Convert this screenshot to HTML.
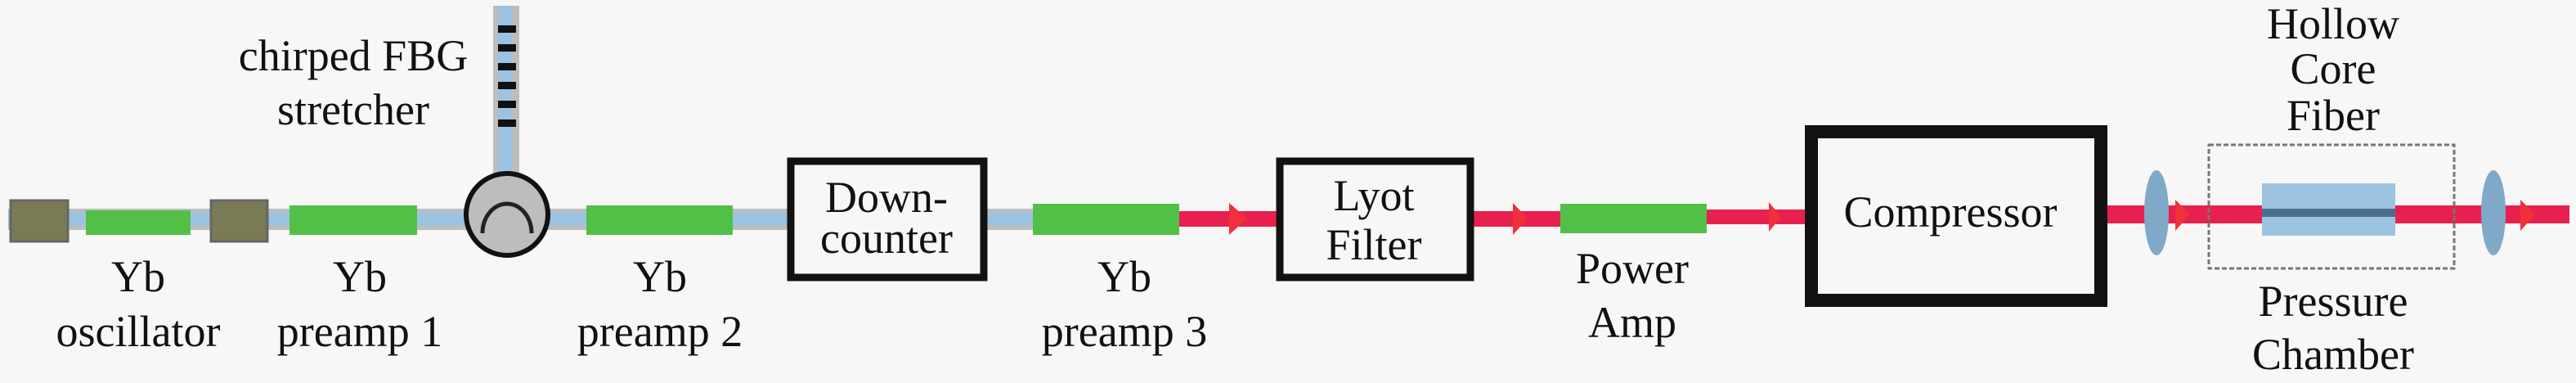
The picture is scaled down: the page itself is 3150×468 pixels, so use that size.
<!DOCTYPE html>
<html><head><meta charset="utf-8"><style>
html,body{margin:0;padding:0;background:#f7f7f7;}
svg{display:block;}
text{font-family:"Liberation Serif","Noto Serif CJK SC","DejaVu Serif",serif;font-size:54px;fill:#111;text-anchor:middle;}
</style></head><body>
<svg width="3150" height="468" viewBox="0 0 3150 468" xmlns="http://www.w3.org/2000/svg">
<rect width="3150" height="468" fill="#f7f7f7"/>
<rect x="10" y="255" width="953" height="26" fill="#bdbdbd"/>
<rect x="10" y="259" width="953" height="17" fill="#9cc3e0"/>
<rect x="1207" y="255" width="60" height="26" fill="#bdbdbd"/>
<rect x="1207" y="259" width="60" height="17" fill="#9cc3e0"/>
<rect x="603" y="7" width="32" height="205" fill="#bdbdbd"/>
<rect x="609" y="7" width="18" height="205" fill="#9cc3e0"/>
<g fill="#111">
<rect x="609" y="31" width="22" height="9"/><rect x="609" y="54" width="22" height="9"/>
<rect x="609" y="77" width="22" height="9"/><rect x="609" y="100" width="22" height="9"/>
<rect x="609" y="123" width="22" height="9"/><rect x="609" y="146" width="22" height="9"/>
</g>
<rect x="13" y="245" width="70" height="50" fill="#7a7a55" stroke="#666" stroke-width="3"/>
<rect x="258" y="245" width="69" height="50" fill="#7a7a55" stroke="#666" stroke-width="3"/>
<rect x="105" y="257" width="128" height="30" fill="#52c046"/>
<rect x="354" y="251" width="156" height="36" fill="#52c046"/>
<rect x="717" y="251" width="179" height="36" fill="#52c046"/>
<rect x="1263" y="249" width="179" height="38" fill="#52c046"/>
<rect x="1908" y="249" width="179" height="36" fill="#52c046"/>
<circle cx="620" cy="262" r="50" fill="#bdbdbd" stroke="#111" stroke-width="6"/>
<path d="M590 285 A30 36 0 0 1 650 285" fill="none" stroke="#222" stroke-width="5"/>
<g fill="#e8204f">
<rect x="1442" y="258" width="119" height="19"/>
<rect x="1802" y="258" width="106" height="19"/>
<rect x="2087" y="256" width="120" height="18"/>
<rect x="2577" y="251" width="565" height="22"/>
</g>
<g fill="#f0303a">
<polygon points="1503,248 1525,267 1503,287"/>
<polygon points="1850,248 1868,267 1850,287"/>
<polygon points="2163,247 2178,265 2163,283"/>
<polygon points="2660,244 2678,262 2660,282"/>
<polygon points="3082,244 3100,262 3082,282"/>
</g>
<rect x="967" y="197" width="236" height="142" fill="#f7f7f7" stroke="#111" stroke-width="9"/>
<rect x="1565" y="197" width="233" height="142" fill="#f7f7f7" stroke="#111" stroke-width="9"/>
<rect x="2215" y="161" width="354" height="206" fill="#f7f7f7" stroke="#111" stroke-width="16"/>
<rect x="2766" y="224" width="163" height="64" fill="#9cc3e0"/>
<rect x="2766" y="255" width="163" height="10" fill="#4a6e8e"/>
<rect x="2701" y="177" width="300" height="151" fill="none" stroke="#777" stroke-width="3" stroke-dasharray="6,3"/>
<ellipse cx="2637" cy="260" rx="15" ry="52" fill="#7fa9c9"/>
<ellipse cx="3049" cy="260" rx="15" ry="52" fill="#7fa9c9"/>
<text x="432" y="86" font-family="Liberation Serif, Noto Serif CJK SC, serif">chirped FBG</text>
<text x="432" y="152">stretcher</text>
<text x="169" y="356">Yb</text>
<text x="169" y="423">oscillator</text>
<text x="440" y="356">Yb</text>
<text x="440" y="423">preamp 1</text>
<text x="807" y="356">Yb</text>
<text x="807" y="423">preamp 2</text>
<text x="1084" y="259">Down-</text>
<text x="1084" y="309">counter</text>
<text x="1375" y="356">Yb</text>
<text x="1375" y="423">preamp 3</text>
<text x="1680" y="257">Lyot</text>
<text x="1680" y="317">Filter</text>
<text x="1996" y="346">Power</text>
<text x="1996" y="412">Amp</text>
<text x="2385" y="277">Compressor</text>
<text x="2853" y="47">Hollow</text>
<text x="2853" y="102">Core</text>
<text x="2853" y="159">Fiber</text>
<text x="2853" y="386">Pressure</text>
<text x="2853" y="451">Chamber</text>
</svg>
</body></html>
